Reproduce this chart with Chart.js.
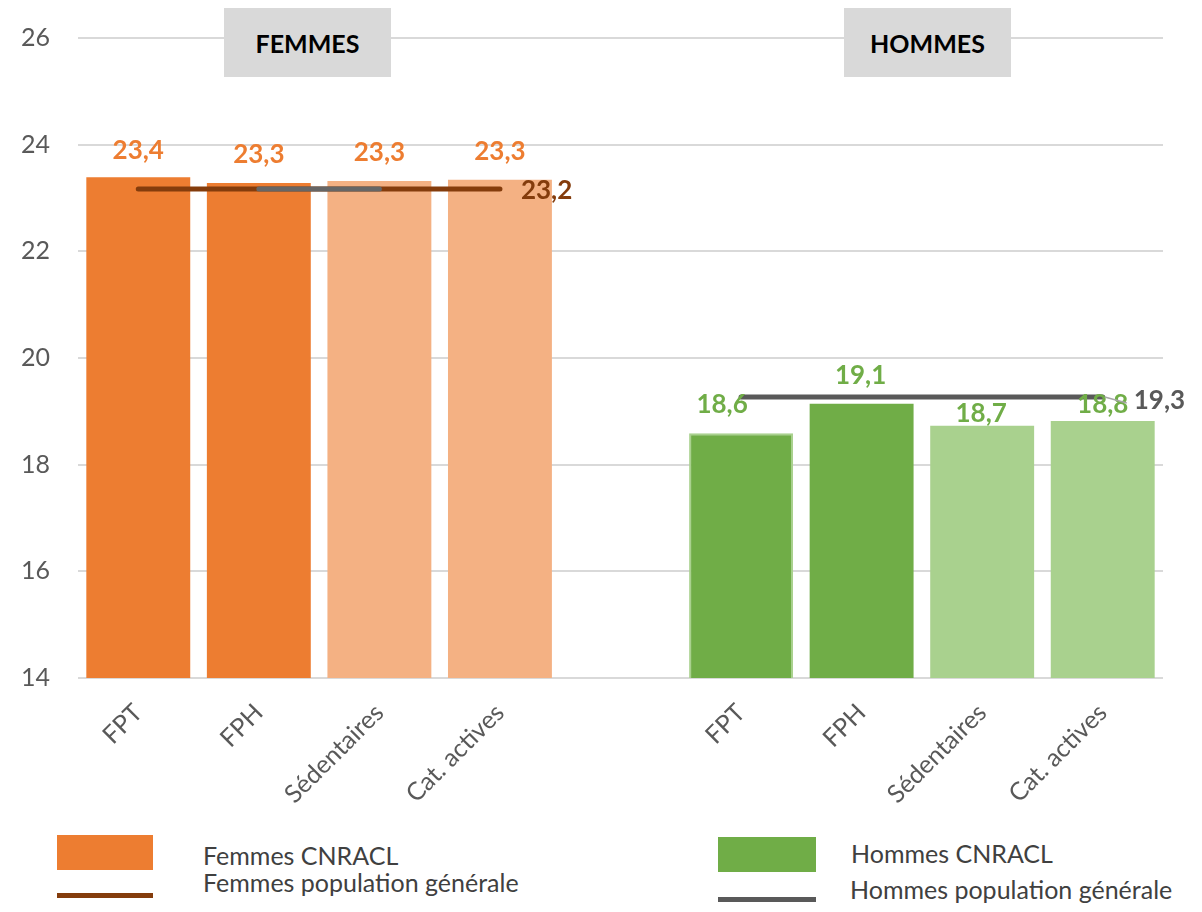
<!DOCTYPE html>
<html><head><meta charset="utf-8">
<script src="https://cdn.jsdelivr.net/npm/chart.js@4.4.1/dist/chart.umd.min.js"></script>
<style>
body{margin:0;background:#fff;font-family:Lato,sans-serif;}
#wrap{position:relative;width:1202px;height:912px;overflow:hidden;}
#c{position:absolute;left:0;top:0;}
.hdr{position:absolute;top:8px;width:167px;height:69px;background:#D9D9D9;font:700 25px Lato,sans-serif;color:#000;display:flex;align-items:center;justify-content:center;}
.lg{position:absolute;font:400 25px Lato,sans-serif;line-height:25px;color:#404040;white-space:nowrap;}
.sw{position:absolute;}
</style></head>
<body><div id="wrap">
<canvas id="c" width="1202" height="830"></canvas>
<div class="hdr" style="left:224px;">FEMMES</div>
<div class="hdr" style="left:844px;">HOMMES</div>
<div class="sw" style="left:57px;top:835px;width:96px;height:35px;background:#ED7D31;"></div>
<div class="lg" style="left:203px;top:843px;">Femmes CNRACL</div>
<div class="sw" style="left:57px;top:893px;width:96px;height:5px;background:#843C0C;"></div>
<div class="lg" style="left:203px;top:870px;">Femmes population générale</div>
<div class="sw" style="left:718px;top:837px;width:98px;height:35px;background:#70AD47;"></div>
<div class="lg" style="left:851px;top:841px;">Hommes CNRACL</div>
<div class="sw" style="left:718px;top:897px;width:98px;height:5px;background:#595959;"></div>
<div class="lg" style="left:850px;top:877px;">Hommes population générale</div>
</div>
<script>
// ---- data ----
const categories = ['FPT','FPH','Sédentaires','Cat. actives','','FPT','FPH','Sédentaires','Cat. actives'];
const femmesCNRACL = [23.39, 23.28, 23.32, 23.34, null, null, null, null, null];
const hommesCNRACL = [null, null, null, null, null, 18.59, 19.14, 18.73, 18.82];
const femmesPopGen = [23.17, 23.17, 23.17, 23.17, null, null, null, null, null];
const hommesPopGen = [null, null, null, null, null, 19.27, 19.27, 19.27, 19.27];
const hommesPopGenOverlap = [null, 23.17, 23.17, null, null, null, null, null, null];
const yTicks = [14, 16, 18, 20, 22, 24, 26];

// ---- styles ----
const femBarColors = ['#ED7D31','#ED7D31','#F4B183','#F4B183','#F4B183','#F4B183','#F4B183','#F4B183','#F4B183'];
const homBarColors = ['#70AD47','#70AD47','#70AD47','#70AD47','#70AD47','#70AD47','#70AD47','#A9D18E','#A9D18E'];
const homBorderW = [0,0,0,0,0,2,0,0,0];
const labelDy = [27,28,28,28,0,29,28,12,16];
const labelDx = [0,0,0,0,0,-19,-1,-1,0];
const fmt = v => v.toFixed(1).replace('.', ',');

const labelPlugin = {
  id: 'valueLabels',
  afterDatasetsDraw(chart) {
    const ctx = chart.ctx;
    ctx.save();
    ctx.textBaseline = 'middle';
    ctx.font = '700 26px Lato, sans-serif';
    ctx.textAlign = 'center';
    [[0,'#ED7D31'],[1,'#70AD47']].forEach(([di,col]) => {
      const meta = chart.getDatasetMeta(di);
      const data = chart.data.datasets[di].data;
      meta.data.forEach((el, i) => {
        if (data[i] == null) return;
        ctx.fillStyle = col;
        ctx.fillText(fmt(data[i]), el.x + labelDx[i], el.y - labelDy[i]);
      });
    });
    ctx.textAlign = 'left';
    const fm = chart.getDatasetMeta(2), hm = chart.getDatasetMeta(3);
    const fLast = fm.data[3], hLast = hm.data[8];
    ctx.fillStyle = '#843C0C';
    ctx.fillText(fmt(femmesPopGen[3]), fLast.x + 21, fLast.y + 2);
    ctx.strokeStyle = '#A6A6A6';
    ctx.lineWidth = 1.5;
    ctx.beginPath();
    ctx.moveTo(hLast.x + 2, hLast.y);
    ctx.lineTo(hLast.x + 24, hLast.y + 6);
    ctx.stroke();
    ctx.fillStyle = '#595959';
    ctx.fillText(fmt(hommesPopGen[8]), hLast.x + 31, hLast.y + 4);
    ctx.restore();
  }
};

new Chart(document.getElementById('c'), {
  data: {
    labels: categories,
    datasets: [
      { type:'bar', label:'Femmes CNRACL', data: femmesCNRACL, backgroundColor: femBarColors,
        grouped:false, categoryPercentage:1, barPercentage:0.862, order:3 },
      { type:'bar', label:'Hommes CNRACL', data: hommesCNRACL, backgroundColor: homBarColors,
        borderColor:'#A9D18E', borderWidth: homBorderW,
        grouped:false, categoryPercentage:1, barPercentage:0.862, order:3 },
      { type:'line', label:'Femmes population générale', data: femmesPopGen, borderColor:'#843C0C',
        borderWidth:5, borderCapStyle:'round', pointRadius:0, fill:false, order:2, spanGaps:false },
      { type:'line', label:'Hommes population générale', data: hommesPopGen, borderColor:'#595959',
        borderWidth:5, borderCapStyle:'round', pointRadius:0, fill:false, order:1, spanGaps:false },
      { type:'line', label:'', data: hommesPopGenOverlap, borderColor:'#666666',
        borderWidth:5, borderCapStyle:'round', pointRadius:0, fill:false, order:0, spanGaps:false }
    ]
  },
  options: {
    responsive:false, devicePixelRatio:1, animation:false,
    layout:{ padding:{ left:0, top:38, right:39, bottom:0 } },
    plugins:{ legend:{display:false}, tooltip:{enabled:false} },
    scales:{
      x:{
        offset:true,
        grid:{display:false}, border:{display:false},
        ticks:{ autoSkip:false, maxRotation:45, minRotation:45, color:'#595959',
                font:{family:'Lato', size:25}, padding:12 },
        afterFit(s){ s.height = 152; }
      },
      y:{
        min:14, max:26,
        afterBuildTicks(s){ s.ticks = yTicks.map(v => ({value:v})); },
        grid:{ color:'#D9D9D9', lineWidth:2, drawTicks:false },
        border:{display:false},
        ticks:{ color:'#595959', font:{family:'Lato', size:25}, padding:28 },
        afterFit(s){ s.width = 78; s.paddingTop = 15; s.paddingBottom = 15; }
      }
    }
  },
  plugins:[labelPlugin]
});
</script>
</body></html>
